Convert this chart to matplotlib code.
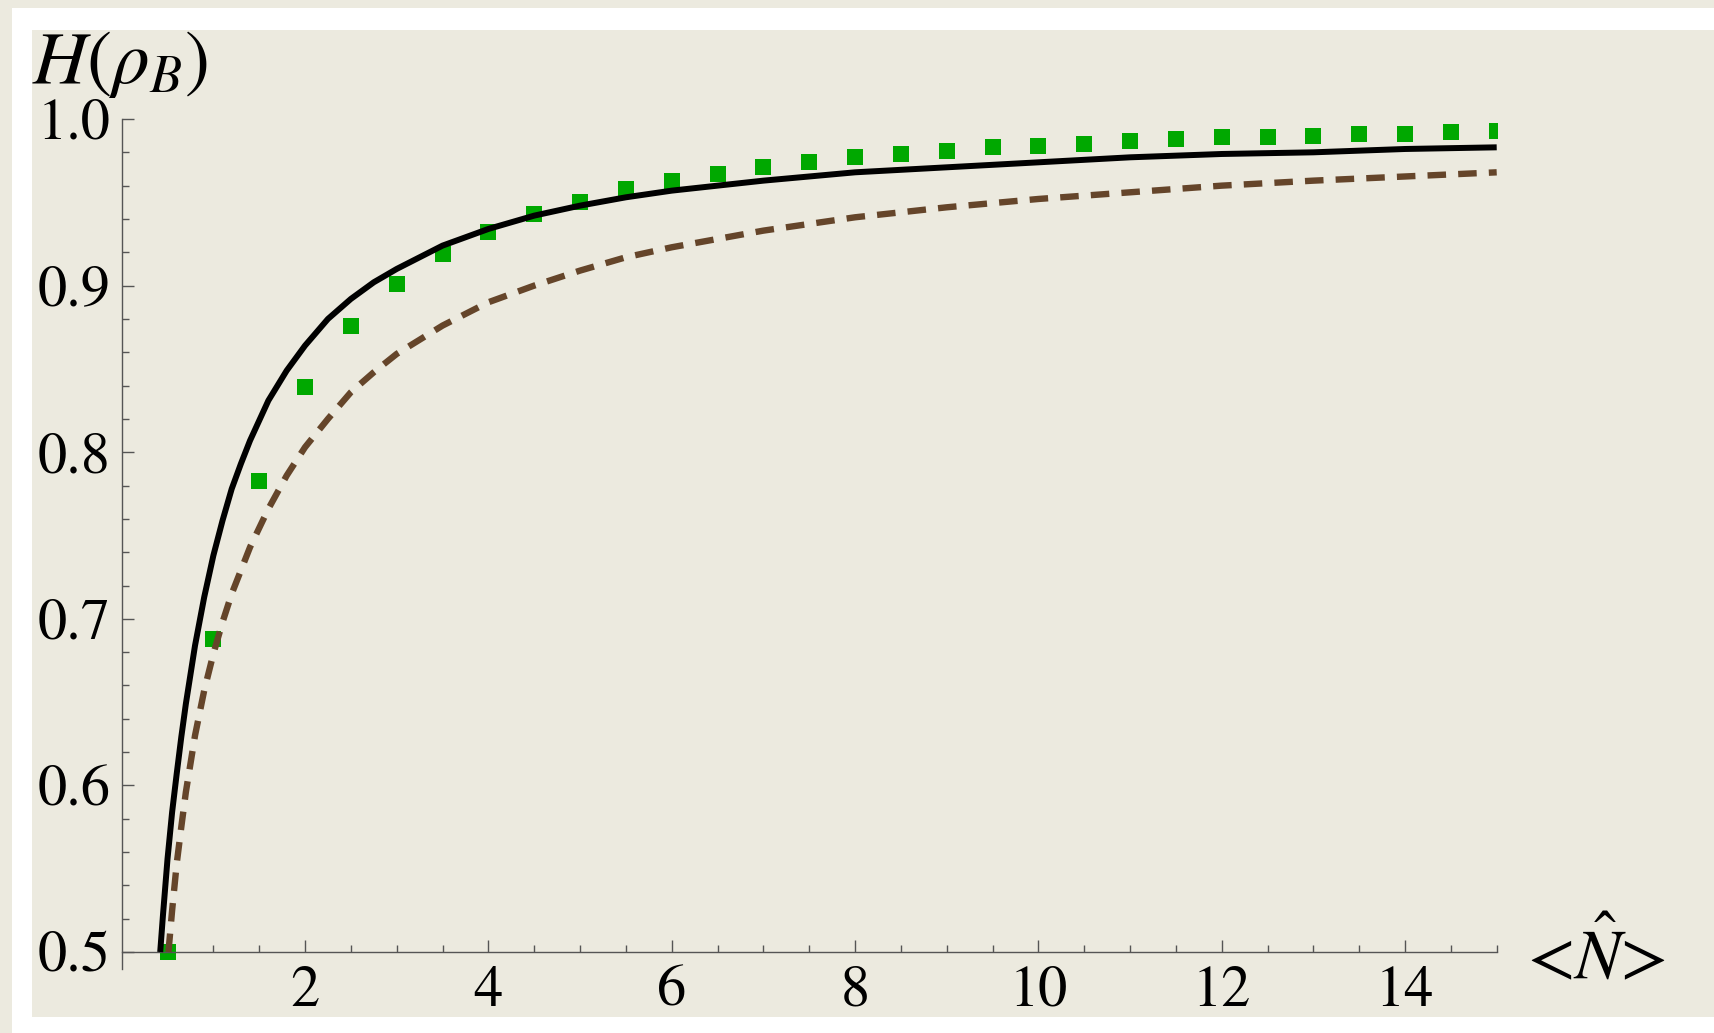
import matplotlib.pyplot as plt
from matplotlib.patches import Rectangle

plt.rcParams['mathtext.fontset'] = 'stix'
plt.rcParams['font.family'] = ['STIXGeneral', 'DejaVu Serif']

# green squares: sampled points
n_points = [0.5, 1.0, 1.5, 2.0, 2.5, 3.0, 3.5, 4.0, 4.5, 5.0,
            5.5, 6.0, 6.5, 7.0, 7.5, 8.0, 8.5, 9.0, 9.5, 10.0,
            10.5, 11.0, 11.5, 12.0, 12.5, 13.0, 13.5, 14.0, 14.5, 15.0]
h_points = [0.500, 0.688, 0.783, 0.839, 0.876, 0.901, 0.919, 0.932, 0.943, 0.950,
            0.958, 0.963, 0.967, 0.971, 0.974, 0.977, 0.979, 0.981, 0.983, 0.984,
            0.985, 0.987, 0.988, 0.989, 0.989, 0.990, 0.991, 0.991, 0.992, 0.993]

# black solid curve
n_solid = [0.42, 0.45, 0.5, 0.55, 0.6, 0.65, 0.7, 0.8, 0.9, 1.0,
           1.1, 1.2, 1.3, 1.4, 1.6, 1.8, 2.0, 2.25, 2.5, 2.75,
           3.0, 3.5, 4.0, 4.5, 5.0, 5.5, 6.0, 7.0, 8.0, 9.0,
           10.0, 11.0, 12.0, 13.0, 14.0, 15.0]
h_solid = [0.500, 0.522, 0.556, 0.584, 0.607, 0.629, 0.649, 0.684, 0.713, 0.738,
           0.759, 0.778, 0.793, 0.807, 0.831, 0.849, 0.864, 0.880, 0.892, 0.902,
           0.910, 0.924, 0.934, 0.942, 0.948, 0.953, 0.957, 0.963, 0.968, 0.971,
           0.974, 0.977, 0.979, 0.980, 0.982, 0.983]

# brown dashed curve
n_dashed = [0.51, 0.55, 0.6, 0.65, 0.7, 0.8, 0.9, 1.0, 1.1, 1.2,
            1.4, 1.6, 1.8, 2.0, 2.25, 2.5, 2.75, 3.0, 3.5, 4.0,
            4.5, 5.0, 5.5, 6.0, 7.0, 8.0, 9.0, 10.0, 11.0, 12.0,
            13.0, 14.0, 15.0]
h_dashed = [0.500, 0.525, 0.553, 0.575, 0.596, 0.630, 0.657, 0.679, 0.698, 0.715,
            0.743, 0.766, 0.786, 0.803, 0.820, 0.836, 0.848, 0.859, 0.876, 0.890,
            0.900, 0.909, 0.917, 0.923, 0.933, 0.941, 0.947, 0.952, 0.956, 0.960,
            0.963, 0.9655, 0.968]

W, H = 1715, 1033
paper = '#ECEADF'
fig = plt.figure(figsize=(W / 100, H / 100), dpi=100, facecolor=paper)

# white frame and inner paper, behind the axes
fig.patches.append(Rectangle((12 / W, 0), 1, 1 - 8 / H, transform=fig.transFigure,
                             facecolor='white', edgecolor='none', zorder=-2))
fig.patches.append(Rectangle((32 / W, 16 / H), 1, (H - 30 - 16) / H, transform=fig.transFigure,
                             facecolor=paper, edgecolor='none', zorder=-1))

ax = fig.add_axes([121.7 / W, 1 - 968.7 / H, (1496.7 - 121.7) / W, (968.7 - 119) / H])
ax.set_zorder(1)
ax.set_facecolor('none')
ax.set_xlim(0, 15)
ax.set_ylim(0.49, 1.0)

ax.plot(n_points, h_points, linestyle='none', marker='s', markersize=12.2,
        markeredgewidth=0, color='#00A800', zorder=2)
ax.plot(n_solid, h_solid, color='black', linewidth=4.3, solid_capstyle='butt',
        solid_joinstyle='round', zorder=3)
ax.plot(n_dashed, h_dashed, color='#65452A', linewidth=4.6, linestyle=(0, (2.9, 1.9)),
        dash_capstyle='butt', zorder=4)

# Mathematica-style axes
for s in ['top', 'right']:
    ax.spines[s].set_visible(False)
ax.spines['bottom'].set_position(('data', 0.5))
for s in ['left', 'bottom']:
    ax.spines[s].set_color('#555555')
    ax.spines[s].set_linewidth(1.0)

ax.set_xticks([2, 4, 6, 8, 10, 12, 14])
ax.set_xticks([0.5, 1, 1.5, 2.5, 3, 3.5, 4.5, 5, 5.5, 6.5, 7, 7.5, 8.5, 9, 9.5,
               10.5, 11, 11.5, 12.5, 13, 13.5, 14.5, 15], minor=True)
ax.set_yticks([0.5, 0.6, 0.7, 0.8, 0.9, 1.0])
ax.set_yticklabels(['0.5', '0.6', '0.7', '0.8', '0.9', '1.0'])
ax.set_yticks([0.52, 0.54, 0.56, 0.58, 0.62, 0.64, 0.66, 0.68, 0.72, 0.74, 0.76, 0.78,
               0.82, 0.84, 0.86, 0.88, 0.92, 0.94, 0.96, 0.98], minor=True)

ax.tick_params(which='both', direction='in', color='#555555', width=1.0, labelsize=42,
               labelcolor='black')
ax.tick_params(which='major', length=8.6)
ax.tick_params(which='minor', length=5)
ax.tick_params(axis='x', which='major', pad=10)
ax.tick_params(axis='y', which='major', pad=8)

fig.text(32 / W, 1 - 83 / H, r'$H(\rho_B)$', fontsize=54, ha='left', va='baseline')
fig.text(1527 / W, 1 - 978 / H, r'<$\hat{N}$>', fontsize=50, ha='left', va='baseline')

fig.savefig('out.png', dpi=100, facecolor=fig.get_facecolor())
